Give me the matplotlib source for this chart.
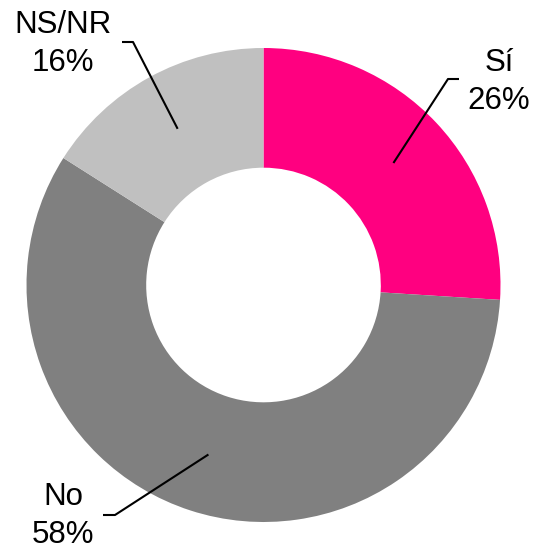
import numpy as np
import matplotlib.pyplot as plt

labels = ['Sí', 'No', 'NS/NR']
values = [26, 58, 16]
colors = ['#FF0080', '#808080', '#C0C0C0']

W, H = 533, 548
fig = plt.figure(figsize=(W / 100, H / 100), dpi=100)
ax = fig.add_axes([0, 0, 1, 1])

cx, cy, R = 263.5, H - 285, 237
wedges, _ = ax.pie(values, colors=colors, startangle=90, counterclock=False,
                   radius=R, center=(cx, cy), frame=True,
                   wedgeprops=dict(width=R * 0.505, linewidth=0))
ax.set_xlim(0, W)
ax.set_ylim(0, H)
ax.set_aspect('equal')
ax.axis('off')

plt.rcParams['font.family'] = ['Liberation Sans', 'DejaVu Sans']

# elbow point, end of horizontal tick, text centre (pixel coords from top)
layout = {
    'Sí': ((448, 79), (459, 79), (499, 82)),
    'No': ((115, 515), (103, 515), (63, 516)),
    'NS/NR': ((133, 42), (122, 42), (63, 44)),
}

for w, lab, v in zip(wedges, labels, values):
    mid = np.deg2rad((w.theta1 + w.theta2) / 2)
    r0 = R * 0.752
    x0, y0 = cx + r0 * np.cos(mid), cy + r0 * np.sin(mid)
    (ex, ey), (hx, hy), (tx, ty) = layout[lab]
    ax.plot([x0, ex, hx], [y0, H - ey, H - hy], color='black', lw=1.5,
            solid_capstyle='butt')
    ax.text(tx, H - ty, '%s\n%d%%' % (lab, v), ha='center', va='center',
            fontsize=22.5, linespacing=1.32, color='black')

fig.savefig('out.png', dpi=100)
